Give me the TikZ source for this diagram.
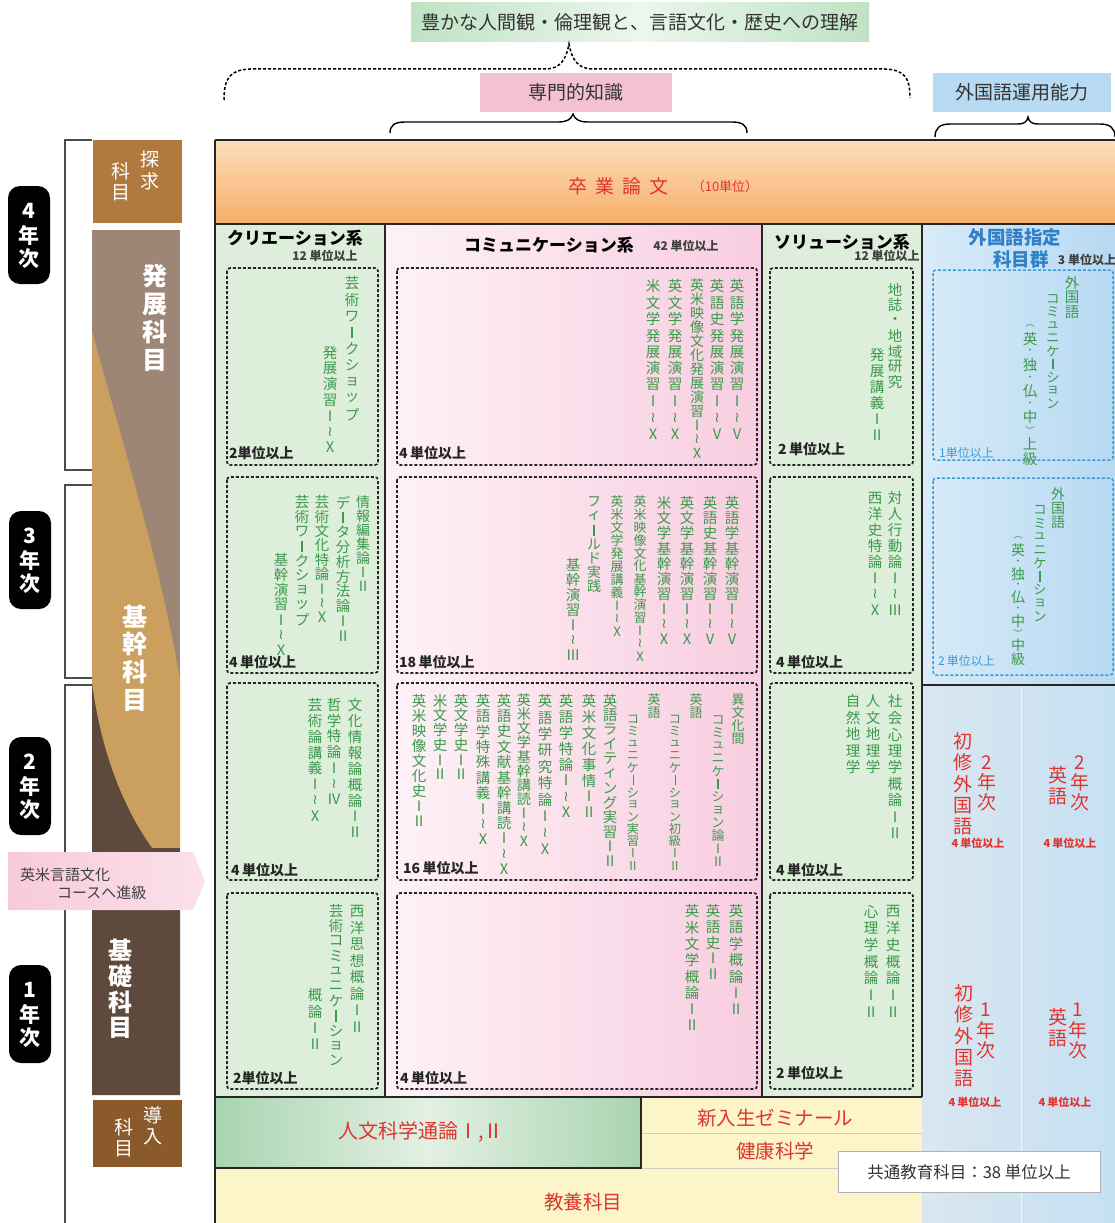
\documentclass[tikz,border=0pt]{standalone}
\usepackage{fontspec}
\setmainfont{Noto Sans CJK JP}
\newfontfamily\symfont{DejaVu Sans}
\usepackage{graphicx}

\definecolor{vgreen}{HTML}{3C9A4C}
\definecolor{redtxt}{HTML}{E0342E}
\definecolor{bluetxt}{HTML}{2F80C8}
\definecolor{dashblue}{HTML}{3A9AD9}
\definecolor{orTop}{HTML}{FDDDBB}
\definecolor{orBot}{HTML}{F6AE68}
\definecolor{creabg}{HTML}{DDEEDB}
\definecolor{commL}{HTML}{FDF2F7}
\definecolor{commR}{HTML}{F8CDE0}
\definecolor{forL}{HTML}{D8EBF8}
\definecolor{forR}{HTML}{B7D9F2}
\definecolor{lowL}{HTML}{D9E7F0}
\definecolor{lowR}{HTML}{C6E0F3}
\definecolor{jinD}{HTML}{A9D4B0}
\definecolor{jinM}{HTML}{E3F0E3}
\definecolor{yel}{HTML}{FBF5C9}
\definecolor{tankyu}{HTML}{B07A3F}
\definecolor{hatten}{HTML}{9E8676}
\definecolor{kikan}{HTML}{CB9F5E}
\definecolor{kiso}{HTML}{5E4A3C}
\definecolor{dounyu}{HTML}{8B5A2B}
\definecolor{pinkA}{HTML}{F8CADB}
\definecolor{pinkB}{HTML}{FBE0EA}
\definecolor{topG}{HTML}{BFE2C4}
\definecolor{topP}{HTML}{F4C0D3}
\definecolor{topB}{HTML}{B8DBF3}

\newcommand\fs[1]{\fontsize{#1}{#1}\selectfont}

% vertical text: one character per cell
\makeatletter
\newdimen\vst@h
\def\vtgap{15.5pt}
\newcommand\vd{{\fs{9}・}}
\newcommand\vpl{{\fs{9.5}︵}}
\newcommand\vpr{{\fs{9.5}︶}}
\newcommand\vb{\rule{0.08em}{0.8em}}
\newcommand\vw{{\symfont ≀}}
\def\vst@end{\vst@end@}
\def\vstack#1{\vbox{\offinterlineskip\vst@loop#1\vst@end}}
\def\vst@loop#1{\ifx#1\vst@end\else\vst@cell{#1}\expandafter\vst@loop\fi}
\def\vst@cell#1{%
  \vst@h=\vtgap\relax
  \ifx#1\vd\vst@h=0.7\vst@h\fi
  \ifx#1\vpl\vst@h=0.7\vst@h\fi
  \ifx#1\vpr\vst@h=0.7\vst@h\fi
  \vbox to\vst@h{\vss\hbox to 1em{\hss#1\hss}\vss}}
\makeatother

\tikzset{
  frame/.style={draw=black!85, line width=1.3pt},
  unitbox/.style={draw=black!85, line width=1.7pt, dash pattern=on 3pt off 2pt, rounded corners=3pt},
  fgnbox/.style={draw=dashblue, line width=1.5pt, dash pattern=on 3pt off 2pt, rounded corners=3pt},
  vt/.style={anchor=north, inner sep=0pt, text=vgreen, font=\fs{14.5}, execute at begin node={\def\vtgap{#1pt}}},
  vtc/.style={vt=#1, font=\fs{#1}},
  vred/.style={anchor=north, inner sep=0pt, text=redtxt, font=\fs{19}, execute at begin node={\def\vtgap{#1pt}}},
  coltxt/.style={anchor=north, inner sep=0pt, text=white, font=\fs{25}\bfseries, execute at begin node={\def\vtgap{#1pt}}},
  yeartag/.style={fill=black, rounded corners=12pt, minimum width=42pt, minimum height=98pt, inner sep=0pt, text=white, font=\fs{21}\bfseries, execute at begin node={\def\vtgap{24pt}}},
  unitlbl/.style={anchor=west, inner sep=0pt, font=\fs{14}\bfseries, text=black!85},
  fgnlbl/.style={anchor=west, inner sep=0pt, font=\fs{12}, text=dashblue},
  hdr/.style={inner sep=0pt, font=\fs{17}\bfseries},
  hdrsub/.style={inner sep=0pt, font=\fs{12}\bfseries, text=black!75},
  brk/.style={draw=black!70, line width=1.4pt},
  redlbl/.style={inner sep=0pt, text=redtxt, font=\fs{19.5}},
  redsmall/.style={inner sep=0pt, text=redtxt, font=\fs{11}\bfseries},
  topbox/.style={inner sep=0pt, minimum height=39pt, font=\fs{19}, text=black!80},
}

\begin{document}
\begin{tikzpicture}[x=1pt,y=-1pt]
\useasboundingbox (0,0) rectangle (1115,1223);

% top labels and braces
\node[topbox, minimum width=458pt, left color=topG, right color=topG, middle color=white!70!topG] (rikai) at (640,22.5) {豊かな人間観・倫理観と、言語文化・歴史への理解};
\node[topbox, minimum width=192pt, fill=topP] (senmon) at (576,92.5) {専門的知識};
\node[topbox, minimum width=178pt, fill=topB] (gaikoku) at (1022,92.5) {外国語運用能力};
\draw[line width=1.5pt, dash pattern=on 3pt off 2pt] (224,100) .. controls (224,78) and (230,70) .. (250,69) -- (545,69) .. controls (560,69) and (566,60) .. (569,44) .. controls (572,60) and (578,69) .. (593,69) -- (885,69) .. controls (905,70) and (910,78) .. (910,98);
\draw[line width=1.4pt] (390,133) .. controls (390,125) and (395,122) .. (405,122) -- (558,122) .. controls (566,122) and (571,120) .. (573,114) .. controls (575,120) and (580,122) .. (588,122) -- (732,122) .. controls (742,122) and (747,125) .. (747,133);
\draw[line width=1.4pt] (935,137) .. controls (935,128) and (940,124) .. (950,124) -- (1018,124) .. controls (1024,124) and (1027,122) .. (1028,117) .. controls (1029,122) and (1032,124) .. (1038,124) -- (1100,124) .. controls (1110,124) and (1115,128) .. (1115,137);

% backgrounds
\shade[top color=orTop, bottom color=orBot] (215,140) rectangle (1115,224);
\fill[creabg] (215,224) rectangle (385,1097);
\shade[left color=commL, right color=commR] (385,224) rectangle (762,1097);
\fill[creabg] (762,224) rectangle (922,1097);
\shade[left color=forL, right color=forR] (922,224) rectangle (1115,685);
\shade[left color=lowL, right color=lowR] (922,685) rectangle (1115,1223);
\draw[white, line width=1pt, opacity=0.7] (1021,685) -- (1021,1223);
\shade[left color=jinD, right color=jinD, middle color=jinM] (215,1097) rectangle (641,1168);
\fill[yel] (641,1097) rectangle (922,1223);
\fill[yel] (215,1168) rectangle (641,1223);
\draw[black!20, line width=1pt] (641,1133) -- (922,1133);
\draw[black!20, line width=1pt] (641,1168) -- (922,1168);

% frame
\draw[frame] (215,140) -- (1115,140);
\draw[frame] (215,224) -- (1115,224);
\draw[frame] (215,140) -- (215,1223);
\draw[frame] (385,224) -- (385,1097);
\draw[frame] (762,224) -- (762,1097);
\draw[frame] (922,224) -- (922,1097);
\draw[frame] (922,685) -- (1115,685);
\draw[frame] (215,1097) -- (922,1097);
\draw[frame] (215,1168) -- (641,1168) -- (641,1097);

% left column
\fill[tankyu] (93,140) rectangle (182,223);
\fill[hatten] (92,230) rectangle (180,1095);
\fill[kikan] (92,330) .. controls (118,430) and (160,560) .. (180,680) -- (180,848) -- (152,848) .. controls (128,815) and (102,760) .. (92,683) -- cycle;
\fill[kiso] (92,683) .. controls (102,760) and (128,815) .. (152,848) -- (180,848) -- (180,1095) -- (92,1095) -- cycle;
\fill[dounyu] (93,1100) rectangle (182,1167);
\draw[brk] (92,140) -- (65,140) -- (65,470) -- (92,470);
\draw[brk] (92,485) -- (65,485) -- (65,678) -- (92,678);
\draw[brk] (92,685) -- (65,685) -- (65,1223);
\node[yeartag] (yr4) at (29,235) {\vstack{4年次}};
\node[yeartag] (yr3) at (30,560) {\vstack{3年次}};
\node[yeartag] (yr2) at (30,786) {\vstack{2年次}};
\node[yeartag] (yr1) at (30,1014) {\vstack{1年次}};
\node[coltxt=22, font=\fs{19}] (tk1) at (150,148) {\vstack{探求}};
\node[coltxt=22, font=\fs{19}] (tk2) at (121,160) {\vstack{科目}};
\node[coltxt=28] (hattxt) at (155,262) {\vstack{発展科目}};
\node[coltxt=28] (kikantxt) at (135,602) {\vstack{基幹科目}};
\node[coltxt=26, font=\fs{24}\bfseries] (kisotxt) at (120,937) {\vstack{基礎科目}};
\node[coltxt=22, font=\fs{19}] (dn1) at (153,1104) {\vstack{導入}};
\node[coltxt=22, font=\fs{19}] (dn2) at (124,1116) {\vstack{科目}};
\shade[left color=pinkA, right color=pinkB] (8,852) -- (193,852) -- (205,881) -- (193,910) -- (8,910) -- cycle;
\node[anchor=west, inner sep=0pt, font=\fs{15}, text=black!75] (shin1) at (20,875) {英米言語文化};
\node[anchor=west, inner sep=0pt, font=\fs{15}, text=black!75] (shin2) at (57,893) {コースへ進級};

% headers
\node[inner sep=0pt, text=redtxt, font=\fs{19}] (sotsu) at (618,186) {卒\hspace{8pt}業\hspace{8pt}論\hspace{8pt}文};
\node[inner sep=0pt, text=redtxt, font=\fs{13}] (sotsuU) at (725,187) {（10単位）};
\node[hdr] (crea) at (295,238) {クリエーション系};
\node[hdrsub] (creaU) at (325,256) {12 単位以上};
\node[hdr] (comm) at (549,245) {コミュニケーション系};
\node[hdrsub] (commU) at (686,246) {42 単位以上};
\node[hdr] (solu) at (842,242) {ソリューション系};
\node[hdrsub] (soluU) at (887,256) {12 単位以上};
\node[hdr, font=\fs{18.5}\bfseries, text=bluetxt] (fgn) at (1015,238) {外国語指定};
\node[hdr, font=\fs{18.5}\bfseries, text=bluetxt] (fgn2) at (1021,259) {科目群};
\node[hdrsub] (fgnU) at (1087,260) {3 単位以上};

% dashed unit boxes
\foreach \ya/\yb in {268/465, 477/673, 683/880, 893/1089} {
  \draw[unitbox] (227,\ya) rectangle (378,\yb);
  \draw[unitbox] (397,\ya) rectangle (757,\yb);
  \draw[unitbox] (770,\ya) rectangle (913,\yb);
}
\draw[fgnbox] (933,270) rectangle (1113,460);
\draw[fgnbox] (933,478) rectangle (1113,675);

\node[unitlbl] (u11) at (229,453) {2単位以上};
\node[unitlbl] (u12) at (399,453) {4\,単位以上};
\node[unitlbl] (u13) at (778,449) {2\,単位以上};
\node[fgnlbl] (u14) at (939,453) {1単位以上};
\node[unitlbl] (u21) at (229,662) {4\,単位以上};
\node[unitlbl] (u22) at (399,662) {18\,単位以上};
\node[unitlbl] (u23) at (776,662) {4\,単位以上};
\node[fgnlbl] (u24) at (938,661) {2\,単位以上};
\node[unitlbl] (u31) at (231,870) {4\,単位以上};
\node[unitlbl] (u32) at (403,868) {16\,単位以上};
\node[unitlbl] (u33) at (776,870) {4\,単位以上};
\node[unitlbl] (u41) at (233,1078) {2単位以上};
\node[unitlbl] (u42) at (400,1078) {4\,単位以上};
\node[unitlbl] (u43) at (776,1073) {2\,単位以上};

% 4th year
\node[vt=16.4] (cr1a) at (352,275) {\vstack{芸術ワ\vb クショップ}};
\node[vt=15.7] (cr1b) at (330,345) {\vstack{発展演習Ⅰ\vw Ⅹ}};
\node[vt=16.4] (cm1a) at (737,278) {\vstack{英語学発展演習Ⅰ\vw Ⅴ}};
\node[vt=16.4] (cm1b) at (717,278) {\vstack{英語史発展演習Ⅰ\vw Ⅴ}};
\node[vtc=14] (cm1c) at (697,278) {\vstack{英米映像文化発展演習Ⅰ\vw Ⅹ}};
\node[vt=16.4] (cm1d) at (675,278) {\vstack{英文学発展演習Ⅰ\vw Ⅹ}};
\node[vt=16.4] (cm1e) at (653,278) {\vstack{米文学発展演習Ⅰ\vw Ⅹ}};
\node[vt=15.4] (so1a) at (895,282) {\vstack{地誌・地域研究}};
\node[vt=16] (so1b) at (877,347) {\vstack{発展講義ⅠⅡ}};
\node[vt=15] (fl1a) at (1072,275) {\vstack{外国語}};
\node[vtc=13.1] (fl1b) at (1053,292) {\vstack{コミュニケ\vb ション}};
\node[vt=15.4] (fl1c) at (1030,320) {\vstack{\vpl 英\vd 独\vd 仏\vd 中\vpr 上級}};

% 3rd year
\node[vtc=14] (cr2a) at (363,495) {\vstack{情報編集論ⅠⅡ}};
\node[vt=14.8] (cr2b) at (343,495) {\vstack{デ\vb タ分析方法論ⅠⅡ}};
\node[vtc=14.4] (cr2c) at (322,495) {\vstack{芸術文化特論Ⅰ\vw Ⅹ}};
\node[vt=14.6] (cr2d) at (302,495) {\vstack{芸術ワ\vb クショップ}};
\node[vt=15] (cr2e) at (281,552) {\vstack{基幹演習Ⅰ\vw Ⅹ}};
\node[vt=15.2] (cm2a) at (732,495) {\vstack{英語学基幹演習Ⅰ\vw Ⅴ}};
\node[vt=15.2] (cm2b) at (710,495) {\vstack{英語史基幹演習Ⅰ\vw Ⅴ}};
\node[vt=15.2] (cm2c) at (687,495) {\vstack{英文学基幹演習Ⅰ\vw Ⅹ}};
\node[vt=15.2] (cm2d) at (664,495) {\vstack{米文学基幹演習Ⅰ\vw Ⅹ}};
\node[vtc=12.9] (cm2e) at (640,495) {\vstack{英米映像文化基幹演習Ⅰ\vw Ⅹ}};
\node[vtc=13] (cm2f) at (617,495) {\vstack{英米文学発展講義Ⅰ\vw Ⅹ}};
\node[vtc=14] (cm2g) at (594,495) {\vstack{フィ\vb ルド実践}};
\node[vt=15.1] (cm2h) at (573,557) {\vstack{基幹演習Ⅰ\vw Ⅲ}};
\node[vt=16] (so2a) at (895,490) {\vstack{対人行動論Ⅰ\vw Ⅲ}};
\node[vt=16] (so2b) at (875,490) {\vstack{西洋史特論Ⅰ\vw Ⅹ}};
\node[vtc=14] (fl2a) at (1058,487) {\vstack{外国語}};
\node[vtc=13.3] (fl2b) at (1040,503) {\vstack{コミュニケ\vb ション}};
\node[vtc=14] (fl2c) at (1018,533) {\vstack{\vpl 英\vd 独\vd 仏\vd 中\vpr 中級}};

% 2nd year
\node[vt=15.9] (cr3a) at (355,697) {\vstack{文化情報論概論ⅠⅡ}};
\node[vt=15.7] (cr3b) at (334,697) {\vstack{哲学特論Ⅰ\vw Ⅳ}};
\node[vt=15.8] (cr3c) at (315,697) {\vstack{芸術論講義Ⅰ\vw Ⅹ}};
\node[vtc=13] (cm3a) at (738,693) {\vstack{異文化間}};
\node[vtc=12.9] (cm3b) at (718,713) {\vstack{コミュニケ\vb ション論ⅠⅡ}};
\node[vtc=13] (cm3c) at (696,693) {\vstack{英語}};
\node[vtc=12.2] (cm3d) at (675,713) {\vstack{コミュニケ\vb ション初級ⅠⅡ}};
\node[vtc=13] (cm3e) at (654,693) {\vstack{英語}};
\node[vtc=12.2] (cm3f) at (633,713) {\vstack{コミュニケ\vb ション実習ⅠⅡ}};
\node[vt=14.6] (cm3g) at (610,693) {\vstack{英語ライティング実習ⅠⅡ}};
\node[vt=15.9] (cm3h) at (589,693) {\vstack{英米文化事情ⅠⅡ}};
\node[vt=15.9] (cm3i) at (566,693) {\vstack{英語学特論Ⅰ\vw Ⅹ}};
\node[vt=16.4] (cm3j) at (545,693) {\vstack{英語学研究特論Ⅰ\vw Ⅹ}};
\node[vtc=14.1] (cm3k) at (524,693) {\vstack{英米文学基幹講読Ⅰ\vw Ⅹ}};
\node[vt=15.3] (cm3l) at (504,693) {\vstack{英語史文献基幹講読Ⅰ\vw Ⅹ}};
\node[vt=15.4] (cm3m) at (483,693) {\vstack{英語学特殊講義Ⅰ\vw Ⅹ}};
\node[vt=14.8] (cm3n) at (461,693) {\vstack{英文学史ⅠⅡ}};
\node[vt=14.8] (cm3o) at (440,693) {\vstack{米文学史ⅠⅡ}};
\node[vt=15] (cm3p) at (419,693) {\vstack{英米映像文化史ⅠⅡ}};
\node[vt=16.5] (so3a) at (895,693) {\vstack{社会心理学概論ⅠⅡ}};
\node[vt=16.4] (so3b) at (873,693) {\vstack{人文地理学}};
\node[vt=16.4] (so3c) at (853,693) {\vstack{自然地理学}};

% 1st year
\node[vt=16.5] (cr4a) at (357,903) {\vstack{西洋思想概論ⅠⅡ}};
\node[vt=15] (cr4b) at (336,903) {\vstack{芸術コミュニケ\vb ション}};
\node[vt=16.3] (cr4c) at (315,987) {\vstack{概論ⅠⅡ}};
\node[vt=16.3] (cm4a) at (736,903) {\vstack{英語学概論ⅠⅡ}};
\node[vt=15.8] (cm4b) at (713,903) {\vstack{英語史ⅠⅡ}};
\node[vt=16.3] (cm4c) at (692,903) {\vstack{英米文学概論ⅠⅡ}};
\node[vt=16.7] (so4a) at (893,903) {\vstack{西洋史概論ⅠⅡ}};
\node[vt=16.7] (so4b) at (871,903) {\vstack{心理学概論ⅠⅡ}};

% foreign language, 1st and 2nd year
\node[vred=21.5] (sh2a) at (963,730) {\vstack{初修外国語}};
\node[vred=20] (sh2b) at (987,752) {\vstack{2年次}};
\node[vred=21] (en2a) at (1058,765) {\vstack{英語}};
\node[vred=20] (en2b) at (1080,752) {\vstack{2年次}};
\node[redsmall] (r2a) at (978,843) {4\,単位以上};
\node[redsmall] (r2b) at (1070,843) {4\,単位以上};
\node[vred=21.5] (sh1a) at (964,982) {\vstack{初修外国語}};
\node[vred=20] (sh1b) at (986,1000) {\vstack{1年次}};
\node[vred=21] (en1a) at (1058,1007) {\vstack{英語}};
\node[vred=20] (en1b) at (1078,1000) {\vstack{1年次}};
\node[redsmall] (r1a) at (975,1102) {4\,単位以上};
\node[redsmall] (r1b) at (1065,1102) {4\,単位以上};

% common education
\node[redlbl, font=\fs{20}] (jinbun) at (421,1132) {人文科学通論Ⅰ,Ⅱ};
\node[redlbl] (zemi) at (775,1118) {新入生ゼミナール};
\node[redlbl] (kenko) at (775,1151) {健康科学};
\node[redlbl] (kyoyo) at (583,1202) {教養科目};
\node[draw=black!30, line width=1pt, fill=white, minimum width=262pt, minimum height=41pt, inner sep=0pt, font=\fs{16.5}, text=black!80] (kyotsu) at (969,1172) {共通教育科目：38 単位以上};
\end{tikzpicture}
\end{document}
